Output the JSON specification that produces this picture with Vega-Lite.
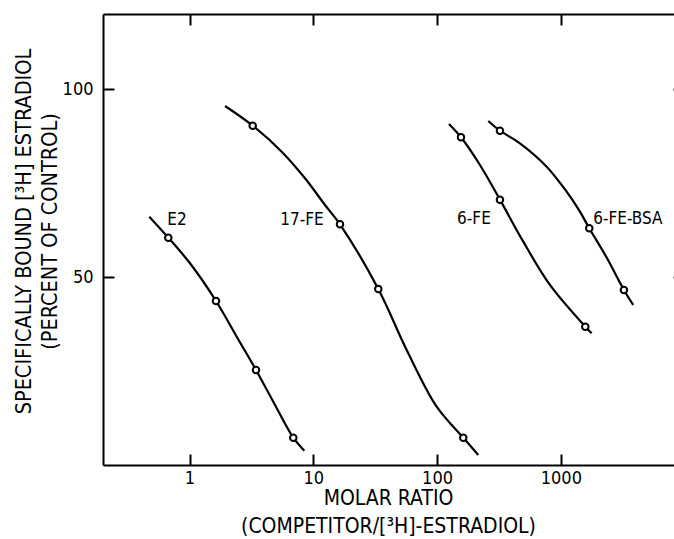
{
  "$schema": "https://vega.github.io/schema/vega-lite/v6.json",
  "width": 572,
  "height": 451,
  "autosize": {"type": "none"},
  "padding": {"left": 103, "top": 14, "right": 0, "bottom": 74},
  "background": "white",
  "config": {
    "view": {"stroke": null},
    "font": "DejaVu Sans Condensed",
    "axis": {
      "domainColor": "black",
      "domainWidth": 2,
      "tickColor": "black",
      "tickWidth": 2,
      "grid": false,
      "labelColor": "black",
      "labelFont": "DejaVu Sans Condensed",
      "labelFontSize": 18,
      "titleColor": "black",
      "titleFont": "DejaVu Sans Condensed",
      "titleFontWeight": "normal"
    }
  },
  "datasets": {
    "curves": [
      {"competitor": "E2", "ratio": 0.4733, "bound": 66.07},
      {"competitor": "E2", "ratio": 0.674, "bound": 60.48},
      {"competitor": "E2", "ratio": 1.009, "bound": 53.67},
      {"competitor": "E2", "ratio": 1.637, "bound": 43.64},
      {"competitor": "E2", "ratio": 2.406, "bound": 34.14},
      {"competitor": "E2", "ratio": 3.445, "bound": 25.28},
      {"competitor": "E2", "ratio": 4.905, "bound": 15.97},
      {"competitor": "E2", "ratio": 6.893, "bound": 7.26},
      {"competitor": "E2", "ratio": 8.459, "bound": 3.81},
      {"competitor": "17-FE", "ratio": 1.936, "bound": 95.53},
      {"competitor": "17-FE", "ratio": 3.24, "bound": 90.29},
      {"competitor": "17-FE", "ratio": 5.557, "bound": 83.37},
      {"competitor": "17-FE", "ratio": 8.57, "bound": 76.29},
      {"competitor": "17-FE", "ratio": 12.43, "bound": 69.19},
      {"competitor": "17-FE", "ratio": 16.43, "bound": 64.05},
      {"competitor": "17-FE", "ratio": 33.5, "bound": 46.83},
      {"competitor": "17-FE", "ratio": 56.83, "bound": 30.6},
      {"competitor": "17-FE", "ratio": 99.3, "bound": 15.51},
      {"competitor": "17-FE", "ratio": 162.8, "bound": 7.26},
      {"competitor": "17-FE", "ratio": 215.2, "bound": 2.66},
      {"competitor": "6-FE", "ratio": 124.8, "bound": 90.74},
      {"competitor": "6-FE", "ratio": 156, "bound": 87.2},
      {"competitor": "6-FE", "ratio": 222.1, "bound": 79.83},
      {"competitor": "6-FE", "ratio": 322.1, "bound": 70.6},
      {"competitor": "6-FE", "ratio": 497.1, "bound": 59.42},
      {"competitor": "6-FE", "ratio": 816.6, "bound": 47.9},
      {"competitor": "6-FE", "ratio": 1576, "bound": 36.8},
      {"competitor": "6-FE", "ratio": 1774, "bound": 35.05},
      {"competitor": "6-FE-BSA", "ratio": 259.2, "bound": 91.54},
      {"competitor": "6-FE-BSA", "ratio": 322.1, "bound": 88.96},
      {"competitor": "6-FE-BSA", "ratio": 467.3, "bound": 85.6},
      {"competitor": "6-FE-BSA", "ratio": 768, "bound": 79.38},
      {"competitor": "6-FE-BSA", "ratio": 1114, "bound": 72.73},
      {"competitor": "6-FE-BSA", "ratio": 1427, "bound": 67.4},
      {"competitor": "6-FE-BSA", "ratio": 1696, "bound": 62.99},
      {"competitor": "6-FE-BSA", "ratio": 2344, "bound": 55.2},
      {"competitor": "6-FE-BSA", "ratio": 3234, "bound": 46.57},
      {"competitor": "6-FE-BSA", "ratio": 3843, "bound": 42.58}
    ],
    "points": [
      {"competitor": "E2", "ratio": 0.674, "bound": 60.48},
      {"competitor": "E2", "ratio": 1.637, "bound": 43.64},
      {"competitor": "E2", "ratio": 3.445, "bound": 25.28},
      {"competitor": "E2", "ratio": 6.893, "bound": 7.26},
      {"competitor": "17-FE", "ratio": 3.24, "bound": 90.29},
      {"competitor": "17-FE", "ratio": 16.43, "bound": 64.05},
      {"competitor": "17-FE", "ratio": 33.5, "bound": 46.83},
      {"competitor": "17-FE", "ratio": 162.8, "bound": 7.26},
      {"competitor": "6-FE", "ratio": 156, "bound": 87.2},
      {"competitor": "6-FE", "ratio": 322.1, "bound": 70.6},
      {"competitor": "6-FE", "ratio": 1576, "bound": 36.8},
      {"competitor": "6-FE-BSA", "ratio": 322.1, "bound": 88.96},
      {"competitor": "6-FE-BSA", "ratio": 1696, "bound": 62.99},
      {"competitor": "6-FE-BSA", "ratio": 3234, "bound": 46.57}
    ],
    "labels": [
      {"competitor": "E2", "ratio": 0.792, "bound": 65.2},
      {"competitor": "17-FE", "ratio": 8.106, "bound": 65.2},
      {"competitor": "6-FE", "ratio": 198.7, "bound": 65.4},
      {"competitor": "6-FE-BSA", "ratio": 3481, "bound": 65.4}
    ]
  },
  "layer": [
    {
      "data": {"name": "curves"},
      "mark": {"type": "line", "interpolate": "catmull-rom", "color": "black", "strokeWidth": 2.2},
      "encoding": {
        "x": {
          "field": "ratio", "type": "quantitative",
          "scale": {"type": "log", "domain": [0.2, 8360], "nice": false},
          "axis": {
            "orient": "bottom", "values": [1, 10, 100, 1000], "format": "d",
            "tickSize": -11, "labelPadding": 15,
            "title": ["MOLAR RATIO", "(COMPETITOR/[³H]-ESTRADIOL)"],
            "titleFontSize": 21, "titleLineHeight": 28,
            "titleBaseline": "alphabetic", "titleAlign": "center",
            "titleX": 285, "titleY": 39
          }
        },
        "y": {
          "field": "bound", "type": "quantitative",
          "scale": {"domain": [0, 120], "nice": false, "zero": false},
          "axis": {
            "orient": "left", "values": [50, 100],
            "tickSize": -11, "labelPadding": 21,
            "title": ["SPECIFICALLY BOUND [³H] ESTRADIOL", "(PERCENT OF CONTROL)"],
            "titleFontSize": 21.5, "titleLineHeight": 26, "titleAngle": -90,
            "titleBaseline": "alphabetic", "titleAlign": "center",
            "titleX": -73, "titleY": 217
          }
        },
        "detail": {"field": "competitor", "type": "nominal"}
      }
    },
    {
      "data": {"name": "points"},
      "mark": {"type": "point", "shape": "circle", "size": 42, "filled": true, "fill": "white", "stroke": "black", "strokeWidth": 2, "opacity": 1},
      "encoding": {
        "x": {
          "field": "ratio", "type": "quantitative",
          "scale": {"type": "log", "domain": [0.2, 8360], "nice": false},
          "axis": {"orient": "top", "values": [1, 10, 100, 1000], "labels": false, "tickSize": -11, "title": null}
        },
        "y": {
          "field": "bound", "type": "quantitative",
          "scale": {"domain": [0, 120], "nice": false, "zero": false},
          "axis": {"orient": "right", "values": [50, 100], "labels": false, "domain": false, "tickSize": -2, "title": null}
        }
      }
    },
    {
      "data": {"name": "labels"},
      "mark": {"type": "text", "font": "DejaVu Sans Condensed", "fontSize": 17, "color": "black", "align": "center", "baseline": "middle"},
      "encoding": {
        "x": {"field": "ratio", "type": "quantitative", "scale": {"type": "log", "domain": [0.2, 8360], "nice": false}, "axis": null},
        "y": {"field": "bound", "type": "quantitative", "scale": {"domain": [0, 120], "nice": false, "zero": false}, "axis": null},
        "text": {"field": "competitor", "type": "nominal"}
      }
    }
  ],
  "resolve": {"axis": {"x": "independent", "y": "independent"}}
}
